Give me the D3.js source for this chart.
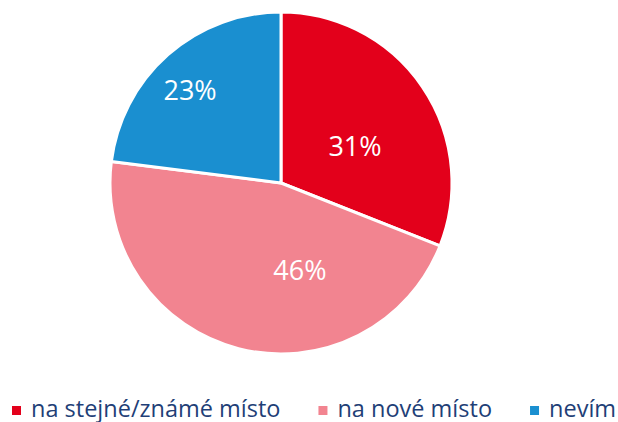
<!DOCTYPE html>
<html><head><meta charset="utf-8">
<script src="https://cdn.jsdelivr.net/npm/d3@7/dist/d3.min.js"></script>
<style>html,body{margin:0;padding:0;background:#fff;}svg{display:block;}</style>
</head><body>
<svg id="c" width="618" height="422"></svg>
<script>
const categories = ["na stejné/známé místo", "na nové místo", "nevím"];
const values = [31, 46, 23];
const valueLabels = ["31%", "46%", "23%"];
const colors = ["#E3001B", "#F28490", "#1A8FD0"];

const W = 618, H = 422;
const cx = 281, cy = 183, R = 171;
// label placement tweaks (angle offset in degrees, radius fraction)
const labelLayout = [[7.6, 0.484], [-26.7, 0.52], [-3, 0.76]];

const svg = d3.select("#c");
const pie = d3.pie().sort(null).value(d => d)(values);
const arc = d3.arc().innerRadius(0).outerRadius(R);

const g = svg.append("g").attr("transform", `translate(${cx},${cy})`);
g.selectAll("path").data(pie).enter().append("path")
  .attr("d", arc)
  .attr("fill", (d, i) => colors[i])
  .attr("stroke", "#fff")
  .attr("stroke-width", 3)
  .attr("stroke-linejoin", "round");

g.selectAll("text.lab").data(pie).enter().append("text")
  .attr("class", "lab")
  .attr("x", (d, i) => {
    const a = (d.startAngle + d.endAngle) / 2 + labelLayout[i][0] * Math.PI / 180;
    return Math.sin(a) * R * labelLayout[i][1];
  })
  .attr("y", (d, i) => {
    const a = (d.startAngle + d.endAngle) / 2 + labelLayout[i][0] * Math.PI / 180;
    return -Math.cos(a) * R * labelLayout[i][1];
  })
  .attr("dy", "0.36em")
  .attr("text-anchor", "middle")
  .attr("fill", "#fff")
  .style("font-family", "'Open Sans', sans-serif")
  .style("font-size", "27px")
  .text((d, i) => valueLabels[i]);

// legend
const leg = svg.append("g");
let x = 12;
categories.forEach((c, i) => {
  leg.append("rect").attr("x", x).attr("y", 406).attr("width", 9).attr("height", 9).attr("fill", colors[i]);
  const t = leg.append("text").attr("x", x + 19).attr("y", 416.5)
    .attr("fill", "#1F3F77")
    .style("font-family", "'Open Sans', sans-serif")
    .style("font-size", "23.5px")
    .text(c);
  const w = t.node().getComputedTextLength();
  x = x + 19 + w + 38;
});
</script>
</body></html>
